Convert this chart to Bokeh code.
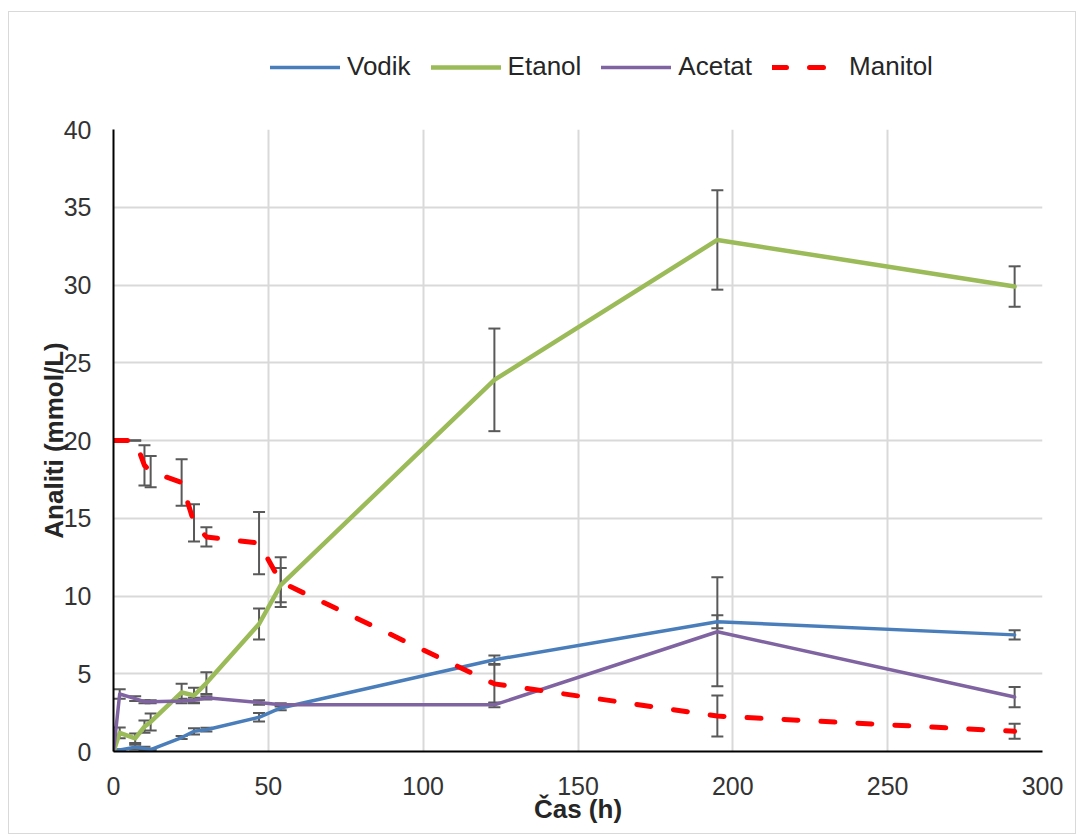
from bokeh.plotting import figure
from bokeh.layouts import column
from bokeh.models import (ColumnDataSource, Whisker, TeeHead, Legend, LegendItem,
                          Range1d, FixedTicker)
from bokeh.embed import file_html
from bokeh.resources import INLINE

# ---- data ----
hours = [0, 2, 7, 10, 12, 22, 26, 30, 47, 54, 123, 195, 291]

vodik = [0, 0.1, 0.28, 0.2, 0.12, 0.9, 1.3, 1.4, 2.2, 2.8, 5.9, 8.35, 7.5]
vodik_err = [0, 0.05, 0.15, 0.1, 0.06, 0.1, 0.2, 0.12, 0.27, 0.15, 0.27, 0.42, 0.3]

etanol = [0, 1.2, 0.85, 1.6, 1.9, 3.8, 3.6, 4.4, 8.2, 10.7, 23.9, 32.9, 29.9]
etanol_err = [0, 0.35, 0.3, 0.4, 0.55, 0.55, 0.5, 0.7, 1.0, 1.1, 3.3, 3.2, 1.3]

acetat = [0, 3.7, 3.4, 3.2, 3.2, 3.25, 3.3, 3.45, 3.15, 3.0, 3.0, 7.7, 3.5]
acetat_err = [0, 0.3, 0.15, 0.1, 0.1, 0.15, 0.15, 0.1, 0.15, 0.1, 0.15, 3.5, 0.65]

manitol = [20, 20, 20, 18.4, 18.0, 17.3, 14.7, 13.8, 13.4, 10.9, 4.35, 2.28, 1.3]
manitol_err = [0, 0, 0.02, 1.3, 1.0, 1.5, 1.2, 0.62, 2.0, 1.6, 1.23, 1.32, 0.48]

series_names = ["Vodik", "Etanol", "Acetat", "Manitol"]
x_ticks = [0, 50, 100, 150, 200, 250, 300]
y_ticks = [0, 5, 10, 15, 20, 25, 30, 35, 40]

FONT = "Liberation Sans"
W = 1066

colors = ["#4a7ebb", "#9bbb59", "#8064a2", "#ff0000"]
widths = [3.5, 4.5, 3.5, 5]
values = [vodik, etanol, acetat, manitol]
errors = [vodik_err, etanol_err, acetat_err, manitol_err]


def line_style(name, col, w):
    kw = dict(line_color=col, line_width=w, line_join="round", line_cap="round")
    if name == "Manitol":
        kw["line_dash"] = "14 23"
    return kw


# ---------- main chart ----------
p = figure(width=W, height=721, output_backend="svg", toolbar_location=None,
           x_range=Range1d(0, 300), y_range=Range1d(0, 40),
           min_border_left=104, min_border_right=33,
           min_border_top=17, min_border_bottom=82)
p.outline_line_color = None
p.background_fill_color = "white"
p.border_fill_color = "white"

for g in (p.xgrid, p.ygrid):
    g.grid_line_color = "#d9d9d9"
    g.grid_line_width = 2
p.xaxis.ticker = FixedTicker(ticks=x_ticks)
p.yaxis.ticker = FixedTicker(ticks=y_ticks)
p.xgrid.ticker = FixedTicker(ticks=x_ticks)
p.ygrid.ticker = FixedTicker(ticks=y_ticks)

for ax in (p.xaxis, p.yaxis):
    ax.axis_line_color = "black"
    ax.axis_line_width = 2
    ax.major_tick_line_color = None
    ax.minor_tick_line_color = None
    ax.major_label_text_font = FONT
    ax.major_label_text_font_size = "25px"
    ax.major_label_text_color = "#333333"
    ax.axis_label_text_font = FONT
    ax.axis_label_text_font_size = "26px"
    ax.axis_label_text_font_style = "bold"
    ax.axis_label_text_color = "#262626"

p.xaxis.axis_label = "Čas (h)"
p.yaxis.axis_label = "Analiti (mmol/L)"
p.xaxis.major_label_standoff = 19
p.xaxis.axis_label_standoff = -4
p.yaxis.major_label_standoff = 16
p.yaxis.axis_label_standoff = -8

for name, vals, col, w in zip(series_names, values, colors, widths):
    src = ColumnDataSource(dict(x=hours, y=vals))
    p.line("x", "y", source=src, **line_style(name, col, w))

for vals, errs in zip(values, errors):
    xs, up, lo = [], [], []
    for t, v, e in zip(hours, vals, errs):
        if e > 0:
            xs.append(t)
            up.append(v + e)
            lo.append(v - e)
    wsrc = ColumnDataSource(dict(base=xs, upper=up, lower=lo))
    wh = Whisker(base="base", upper="upper", lower="lower", source=wsrc,
                 line_color="#595959", line_width=2,
                 upper_head=TeeHead(size=12, line_color="#595959", line_width=2),
                 lower_head=TeeHead(size=12, line_color="#595959", line_width=2))
    p.add_layout(wh)

# ---------- legend strip above the chart ----------
lg = figure(width=W, height=100, output_backend="svg", toolbar_location=None,
            x_range=Range1d(0, 1), y_range=Range1d(0, 1),
            x_axis_type=None, y_axis_type=None,
            min_border_left=0, min_border_right=0,
            min_border_top=0, min_border_bottom=0)
lg.outline_line_color = None
lg.xgrid.visible = False
lg.ygrid.visible = False
lg.background_fill_color = "white"
lg.border_fill_color = "white"

leg_renderers = []
for name, col, w in zip(series_names, colors, widths):
    # points outside the visible range: only the legend swatch is seen
    r = lg.line(x=[-5, -4], y=[-5, -5], **line_style(name, col, w))
    leg_renderers.append(r)

legend = Legend(items=[LegendItem(label=n, renderers=[r]) for n, r in zip(series_names, leg_renderers)],
                orientation="horizontal", location=(147, 20),
                glyph_width=70, glyph_height=20, label_standoff=7, spacing=20,
                label_text_font=FONT, label_text_font_size="26px",
                label_text_color="#262626",
                border_line_alpha=0, background_fill_alpha=0,
                padding=10, margin=0)
lg.add_layout(legend, "center")

layout = column(lg, p, spacing=0)
layout.styles = {"border": "1px solid #d9d9d9", "margin-left": "8px", "margin-top": "11px"}

open("out.html", "w").write(file_html(layout, INLINE))
